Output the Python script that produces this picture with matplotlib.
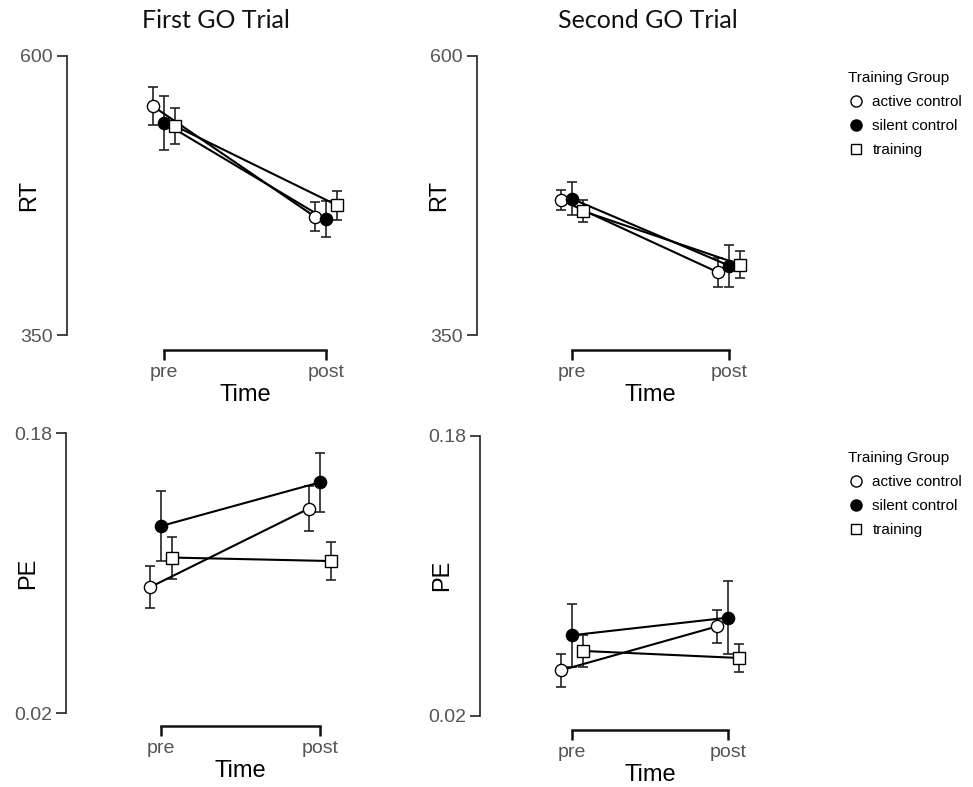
import matplotlib
matplotlib.use("Agg")
import matplotlib.pyplot as plt
from matplotlib.lines import Line2D
from matplotlib.transforms import blended_transform_factory

# groups and time points
groups = ["active control", "silent control", "training"]
times = ["pre", "post"]

# RT, first GO trial (mean per group, pre / post) and error bars
rt_first = [[555, 456], [540, 453.5], [537, 466]]
rt_first_err = [[17, 13], [24, 16], [16, 13]]

# RT, second GO trial
rt_second = [[471, 406], [472, 412], [461, 413]]
rt_second_err = [[9, 13], [15, 19], [10, 12]]

# PE, first GO trial
pe_first = [[0.092, 0.137], [0.127, 0.152], [0.109, 0.107]]
pe_first_err = [[0.012, 0.013], [0.020, 0.017], [0.012, 0.011]]

# PE, second GO trial
pe_second = [[0.046, 0.071], [0.066, 0.076], [0.057, 0.053]]
pe_second_err = [[0.0094, 0.0095], [0.018, 0.021], [0.009, 0.008]]

rt_ticks = [350, 600]
pe_ticks = [0.02, 0.18]

W, H = 973, 787
DPI = 100
fig = plt.figure(figsize=(W / DPI, H / DPI), dpi=DPI)
plt.rcParams['font.family'] = ['Liberation Sans', 'DejaVu Sans']

markers = ["o", "o", "s"]
faces = ["white", "black", "white"]
dodge = [-0.07, 0.0, 0.07]
XR = 1.25


def make_panel(left_px, pre_px, post_px, top_px, bot_px, bracket_px,
               means, errs, ticks, ticklabels, ylabel):
    # place axes so that spine / pre / post land at the given pixel columns
    unit = post_px - pre_px
    xl = -(pre_px - left_px) / unit
    width = (XR - xl) * unit
    ax = fig.add_axes([left_px / W, 1 - bot_px / H, width / W, (bot_px - top_px) / H])
    ax.set_xlim(xl, XR)
    ax.set_ylim(ticks[0], ticks[1])
    for i in range(len(groups)):
        xs = [t + dodge[i] for t in range(len(times))]
        ax.errorbar(xs, means[i], yerr=errs[i], fmt="none", ecolor="#222222",
                    elinewidth=1.2, capsize=3.5, capthick=1.2, zorder=2,
                    clip_on=False)
        ax.plot(xs, means[i], color="black", lw=1.5, zorder=3, clip_on=False)
        ax.plot(xs, means[i], ls="none", marker=markers[i],
                ms=8.8 if markers[i] == "o" else 8.2,
                mfc=faces[i], mec="black", mew=1.0, zorder=4, clip_on=False)

    for s in ["top", "right"]:
        ax.spines[s].set_visible(False)
    ax.spines["left"].set_bounds(ticks[0], ticks[1])
    ax.spines["left"].set_color("#333333")
    ax.spines["left"].set_linewidth(1.3)
    ax.spines["bottom"].set_bounds(0, 1)
    ax.spines["bottom"].set_position(("outward", (bracket_px - bot_px) * 72 / DPI))
    ax.spines["bottom"].set_color("#111111")
    ax.spines["bottom"].set_linewidth(1.8)

    ax.set_yticks(ticks)
    ax.set_yticklabels(ticklabels)
    ax.set_xticks(range(len(times)))
    ax.set_xticklabels(times)
    ax.tick_params(axis="y", direction="out", length=7, width=1.3, color="#333333",
                   labelsize=14, labelcolor="#555555", pad=3)
    ax.tick_params(axis="x", direction="out", length=7, width=1.8, color="#111111",
                   labelsize=14, labelcolor="#555555", pad=3)
    ax.patch.set_alpha(0)

    ax.set_ylabel(ylabel, fontsize=17, va="center")
    ax.yaxis.set_label_coords(-38 / width, 0.5)
    ax.set_xlabel("Time", fontsize=17, va="center")
    ax.xaxis.set_label_coords(0.5, 1 - (bracket_px + 45) / H,
                              transform=blended_transform_factory(ax.transData, fig.transFigure))
    return ax


ax1 = make_panel(67, 164, 326, 55.7, 335, 350, rt_first, rt_first_err,
                 rt_ticks, ["350", "600"], "RT")
ax2 = make_panel(476.7, 571.7, 729.3, 55.7, 335, 350, rt_second, rt_second_err,
                 rt_ticks, ["350", "600"], "RT")
ax3 = make_panel(65.7, 161, 320, 433.3, 713.3, 726, pe_first, pe_first_err,
                 pe_ticks, ["0.02", "0.18"], "PE")
ax4 = make_panel(480, 572.3, 727.7, 435.7, 715.7, 730, pe_second, pe_second_err,
                 pe_ticks, ["0.02", "0.18"], "PE")

fig.text(216 / W, 1 - 21 / H, "First GO Trial", fontsize=18, family=["Lato", "DejaVu Sans"],
         ha="center", va="center", color="#111111")
fig.text(648 / W, 1 - 21 / H, "Second GO Trial", fontsize=18, family=["Lato", "DejaVu Sans"],
         ha="center", va="center", color="#111111")

handles = [Line2D([], [], ls="none", marker=markers[i], mfc=faces[i], mec="black",
                  mew=1.0, ms=8 if markers[i] == "o" else 7.5) for i in range(len(groups))]
for top in [71, 451]:
    fig.legend(handles, groups, title="Training Group", loc="upper left",
               bbox_to_anchor=(848 / W, 1 - top / H), frameon=False, alignment="left",
               fontsize=11, title_fontsize=11, handlelength=1.0, handletextpad=0.6,
               borderpad=0, borderaxespad=0, labelspacing=0.66)

fig.savefig("out.png", dpi=DPI)
